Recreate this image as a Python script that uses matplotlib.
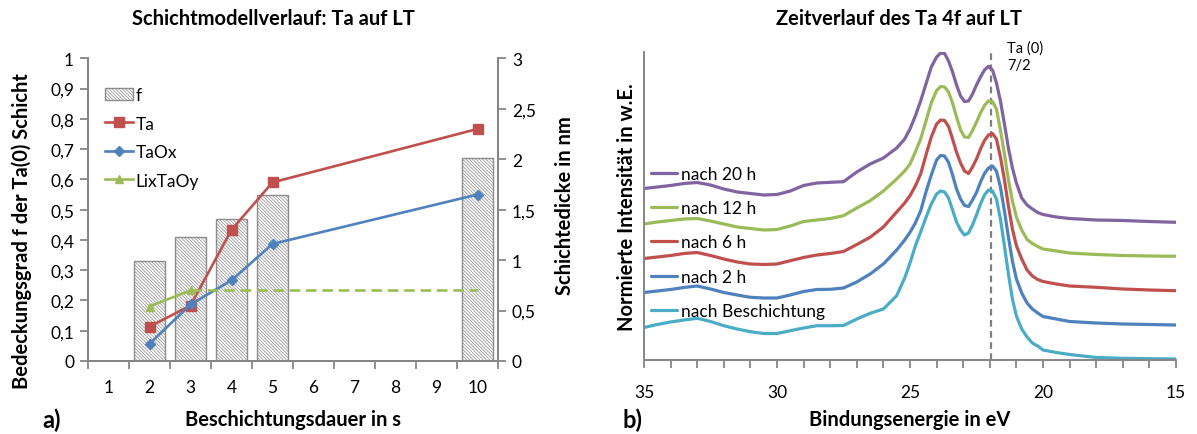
import matplotlib
matplotlib.use("Agg")
import matplotlib.pyplot as plt
from matplotlib.ticker import FixedLocator, FuncFormatter, MultipleLocator, NullLocator
from matplotlib.patches import Patch
from matplotlib.lines import Line2D

# ---------------- panel a) layer model ----------------
dauer_labels = ["1", "2", "3", "4", "5", "6", "7", "8", "9", "10"]
messpunkte = ["2", "3", "4", "5", "10"]
bedeckung_f = [0.33, 0.41, 0.47, 0.55, 0.67]
dicke_ta = [0.34, 0.55, 1.30, 1.77, 2.30]
dicke_taox = [0.17, 0.56, 0.80, 1.16, 1.65]
lixtaoy_punkte = ["2", "3"]
dicke_lixtaoy = [0.54, 0.70]
lixtaoy_fortsetzung = ["3", "10"]

# ---------------- panel b) Ta 4f spectra ----------------
energie_ev = [35, 34.5, 34, 33.5, 33, 32.5, 32, 31.5, 31, 30.5,
              30, 29.5, 29, 28.5, 28, 27.5, 27, 26.5, 26, 25.5,
              25.2, 25.0, 24.8, 24.6, 24.4, 24.2, 24.0, 23.85, 23.7, 23.55,
              23.4, 23.25, 23.1, 22.95, 22.8, 22.65, 22.5, 22.35, 22.2, 22.05,
              21.9, 21.75, 21.6, 21.45, 21.3, 21.15, 21.0, 20.8, 20.6, 20.4,
              20.2, 20.0, 19.5, 19, 18, 17, 16, 15]
int_20h = [171.5, 173, 174.5, 176.5, 177.5, 175, 171, 168, 166.5, 165,
           165.5, 169, 174.5, 177, 177.7, 178.3, 188, 196, 202, 212,
           221, 231, 244, 259, 276, 293, 303, 307, 306.5, 299,
           288, 275, 264, 258.5, 259, 266, 275, 283, 290, 293.7,
           290, 277, 259, 236, 212, 192, 177, 162, 155, 151,
           147.5, 145.5, 143, 141.5, 140, 139.5, 138.5, 137.7]
int_12h = [136, 138, 139.5, 141, 141.5, 139, 136, 133, 131.5, 130,
           130.5, 134, 138.5, 140, 141.5, 144.3, 152, 159.3, 169, 181,
           189, 196, 208, 221, 239, 257, 269.5, 273.5, 273, 268,
           257, 243, 230, 223, 222.5, 229.5, 238, 247, 254.5, 259,
           258.5, 251, 230, 206, 180, 159, 143, 130, 120.5, 116.5,
           113.5, 111, 109, 107, 105.5, 104.5, 104, 103.7]
int_6h = [101.5, 103, 104.5, 106.5, 107.5, 104.5, 101, 98, 96, 95.5,
          96, 99.3, 102.5, 105, 106.5, 108.5, 115.5, 122.7, 133, 148,
          157, 164.3, 174, 186, 205, 223, 236, 240, 239.5, 233.5,
          221, 207.7, 197, 189, 186.5, 193, 201, 211, 219.5, 225,
          226.5, 221, 203, 180, 154, 131, 114.3, 101, 90, 84,
          80.5, 78.5, 76, 74, 72.7, 71, 70, 69.3]
int_2h = [67.5, 69, 70.5, 72.5, 74, 71, 67.5, 65, 62.7, 62,
          62, 65, 68.5, 70.5, 70.7, 72, 78, 86, 96, 110,
          120, 127.7, 137, 149, 168, 185, 200, 204.5, 204, 197.5,
          185, 171, 161, 154.5, 153.5, 160, 167.5, 178, 186.5, 192,
          194, 189, 173, 149, 123, 99, 81, 67, 57, 51,
          47, 43.5, 41, 38.5, 37, 36, 35.5, 35]
int_0h = [32.5, 35.5, 38, 40, 41.7, 38.5, 34.3, 31, 28.3, 26.5,
          26.5, 29.3, 32, 34.3, 34.3, 34.5, 41, 46.7, 51, 64.3,
          82, 97, 114, 128, 142.5, 156, 166, 169, 168, 162,
          150, 138, 130, 125, 127, 135, 145, 156, 165, 170,
          169, 161, 141, 114, 86, 61, 44, 31, 23, 17,
          14, 10, 7.5, 5.5, 2.5, 1.7, 1.3, 1]
spektren_labels = ["nach 20 h", "nach 12 h", "nach 6 h", "nach 2 h", "nach Beschichtung"]
ta0_position = 21.95

plt.rcParams["font.family"] = ["Lato", "DejaVu Sans"]
plt.rcParams["hatch.linewidth"] = 0.5

W, H = 1197, 435
fig = plt.figure(figsize=(W / 100, H / 100), dpi=100)
fig.patch.set_facecolor("white")


def axes_px(left, top, right, bottom):
    return fig.add_axes([left / W, 1 - bottom / H, (right - left) / W, (bottom - top) / H])


def ftxt(x, y, s, **kw):
    fig.text(x / W, 1 - y / H, s, **kw)


GREY = "#868686"
TICK_FS = 12.5
LABEL_FS = 14.5
comma = FuncFormatter(lambda v, p: f"{v:g}".replace(".", ","))
HATCH = "\\" * 10

# ---------------- panel a) ----------------
ax1 = axes_px(88, 59.3, 498, 362)
ax2 = ax1.twinx()
idx = {c: i for i, c in enumerate(dauer_labels)}

ax1.bar([idx[c] for c in messpunkte], bedeckung_f, width=0.75,
        facecolor="white", edgecolor="#8c8c8c", linewidth=1.0,
        hatch=HATCH, zorder=2)

ax2.plot([idx[c] for c in messpunkte], dicke_ta, color="#C0504D", lw=1.9,
         marker="s", markersize=6.8, zorder=3)
ax2.plot([idx[c] for c in messpunkte], dicke_taox, color="#4F81BD", lw=1.9,
         marker="D", markersize=4.6, zorder=3)
ax2.plot([idx[c] for c in lixtaoy_punkte], dicke_lixtaoy, color="#9BBB59", lw=1.9,
         marker="^", markersize=6.2, zorder=3)
ax2.plot([idx[c] for c in lixtaoy_fortsetzung], [dicke_lixtaoy[-1]] * 2,
         color="#9BBB59", lw=1.9, ls=(0, (4, 2.2)), zorder=3)

ax1.set_xlim(-0.5, len(dauer_labels) - 0.5)
ax1.set_ylim(0, 1)
ax2.set_ylim(0, 3)
ax1.xaxis.set_major_locator(FixedLocator(range(len(dauer_labels))))
ax1.set_xticklabels(dauer_labels)
ax1.xaxis.set_minor_locator(FixedLocator([i - 0.5 for i in range(len(dauer_labels) + 1)]))
ax1.tick_params(axis="x", which="major", length=0, pad=13, labelsize=TICK_FS)
ax1.tick_params(axis="x", which="minor", length=6, width=1.3, color=GREY, direction="out")
ax1.yaxis.set_major_locator(MultipleLocator(0.1))
ax1.yaxis.set_major_formatter(comma)
ax1.tick_params(axis="y", length=6, width=1.3, color=GREY, labelsize=TICK_FS, pad=4)
ax2.yaxis.set_major_locator(MultipleLocator(0.5))
ax2.yaxis.set_major_formatter(comma)
ax2.tick_params(axis="y", length=6, width=1.3, color=GREY, labelsize=TICK_FS, pad=4)
for a in (ax1, ax2):
    a.spines["top"].set_visible(False)
    for s in ("left", "right", "bottom"):
        a.spines[s].set_color(GREY)
        a.spines[s].set_linewidth(1.4)
ax2.set_zorder(ax1.get_zorder() + 1)
ax2.patch.set_visible(False)

hand_a = [Patch(facecolor="white", edgecolor="#8c8c8c", hatch=HATCH, linewidth=1.0),
          Line2D([], [], color="#C0504D", lw=1.9, marker="s", markersize=6.8),
          Line2D([], [], color="#4F81BD", lw=1.9, marker="D", markersize=4.6),
          Line2D([], [], color="#9BBB59", lw=1.9, marker="^", markersize=6.2)]
ax2.legend(hand_a, ["f", "Ta", "TaOx", "LixTaOy"], loc="upper left",
           bbox_to_anchor=(105 / W, 1 - 88 / H), bbox_transform=fig.transFigure,
           frameon=False, fontsize=TICK_FS, handlelength=1.6, handleheight=0.75,
           handletextpad=0.15, labelspacing=0.72, borderpad=0, borderaxespad=0)

ftxt(273, 19, "Schichtmodellverlauf: Ta auf LT", ha="center", va="center",
     fontsize=LABEL_FS, fontweight="bold")
ftxt(22, 231, "Bedeckungsgrad f der Ta(0) Schicht", ha="center", va="center",
     rotation=90, fontsize=LABEL_FS, fontweight="bold")
ftxt(565, 206, "Schichtedicke in nm", ha="center", va="center",
     rotation=90, fontsize=LABEL_FS, fontweight="bold")
ftxt(293, 420, "Beschichtungsdauer in s", ha="center", va="center",
     fontsize=LABEL_FS, fontweight="bold")
ftxt(52, 420, "a)", ha="center", va="center", fontsize=17, fontweight="bold")

# ---------------- panel b) ----------------
ax3 = axes_px(644, 53, 1176, 361)
farben = ["#8064A2", "#9BBB59", "#C0504D", "#4F81BD", "#4BACC6"]
for werte, farbe, lab in zip([int_20h, int_12h, int_6h, int_2h, int_0h], farben, spektren_labels):
    ax3.plot(energie_ev, werte, color=farbe, lw=2.3, label=lab,
             solid_joinstyle="round", solid_capstyle="round")
ax3.axvline(ta0_position, color="#7f7f7f", lw=1.6, ls=(0, (3, 2)), zorder=1)
ax3.set_xlim(35, 15)
ax3.set_ylim(0, 308)
ax3.xaxis.set_major_locator(MultipleLocator(5))
ax3.xaxis.set_minor_locator(MultipleLocator(1))
ax3.tick_params(axis="x", which="both", length=6, width=1.3, color=GREY,
                direction="out", labelsize=TICK_FS, pad=11)
ax3.yaxis.set_major_locator(NullLocator())
for s in ("top", "right"):
    ax3.spines[s].set_visible(False)
for s in ("left", "bottom"):
    ax3.spines[s].set_color(GREY)
    ax3.spines[s].set_linewidth(1.4)
ax3.text(21.35, 320, "Ta (0)\n7/2", ha="left", va="top", fontsize=10.5,
         linespacing=1.3, clip_on=False)
ax3.legend(loc="upper left", bbox_to_anchor=(651 / W, 1 - 167 / H),
           bbox_transform=fig.transFigure, frameon=False, fontsize=TICK_FS,
           handlelength=1.5, handletextpad=0.2, labelspacing=1.05,
           borderpad=0, borderaxespad=0)

ftxt(899, 19, "Zeitverlauf des Ta 4f auf LT", ha="center", va="center",
     fontsize=LABEL_FS, fontweight="bold")
ftxt(627, 207, "Normierte Intensität in w.E.", ha="center", va="center",
     rotation=90, fontsize=LABEL_FS, fontweight="bold")
ftxt(910, 420, "Bindungsenergie in eV", ha="center", va="center",
     fontsize=LABEL_FS, fontweight="bold")
ftxt(633, 420, "b)", ha="center", va="center", fontsize=17, fontweight="bold")

fig.savefig("out.png", dpi=100, facecolor="white")
